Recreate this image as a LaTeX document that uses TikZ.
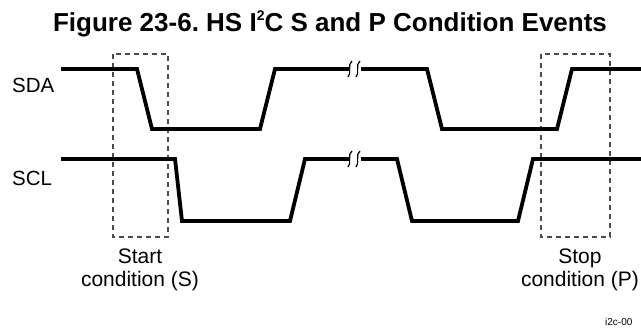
\documentclass[tikz,border=0pt]{standalone}
\usepackage{fontspec}
\setmainfont{Liberation Sans}
\begin{document}
\begin{tikzpicture}[x=1pt,y=-1pt,
  signal/.style={line width=3.8pt, line join=miter},
  brk/.style={line width=1.2pt},
  condbox/.style={draw=black!70, dashed, dash pattern=on 5pt off 4pt, line width=1.1pt},
  lbl/.style={font=\fontsize{20.5}{24}\selectfont, inner sep=0pt},
  cond/.style={font=\fontsize{21}{23.5}\selectfont, align=center, inner sep=0pt},
]
\useasboundingbox (0,0) rectangle (641,330);
\node[font=\bfseries\fontsize{26}{30}\selectfont, inner sep=0pt, anchor=base] (title) at (330,31) {Figure 23-6.\ HS I\raisebox{0.75ex}{\fontsize{14}{14}\selectfont 2}C S and P Condition Events};
\node[lbl, anchor=base west] (sda) at (12,92) {SDA};
\node[lbl, anchor=base west] (scl) at (12,185) {SCL};
% condition boxes
\draw[condbox] (113,54) rectangle (168,237);
\draw[condbox] (541,54) rectangle (610,237);
% SDA
\draw[signal] (61,69) -- (137,69) -- (152,129) -- (260,129) -- (275,69) -- (349,69);
\draw[signal] (361,69) -- (427,69) -- (442,129) -- (557,129) -- (572,69) -- (641,69);
% SCL
\draw[signal] (61,159) -- (175,159) -- (182,221) -- (290,221) -- (305,159) -- (349,159);
\draw[signal] (361,159) -- (397,159) -- (412,221) -- (518,221) -- (533,159) -- (641,159);
% break marks
\foreach \yy in {69,159}{
  \draw[brk] (352,\yy-8) .. controls (347,\yy-5) and (352,\yy+5) .. (348,\yy+8);
  \draw[brk] (360,\yy-8) .. controls (355,\yy-5) and (360,\yy+5) .. (356,\yy+8);
}
\node[cond] (start) at (140,270) {Start\\condition (S)};
\node[cond] (stop) at (580,270) {Stop\\condition (P)};
\node[font=\fontsize{10}{12}\selectfont, inner sep=0pt, anchor=base west] (fig) at (605,325) {i2c-00};
\end{tikzpicture}
\end{document}
